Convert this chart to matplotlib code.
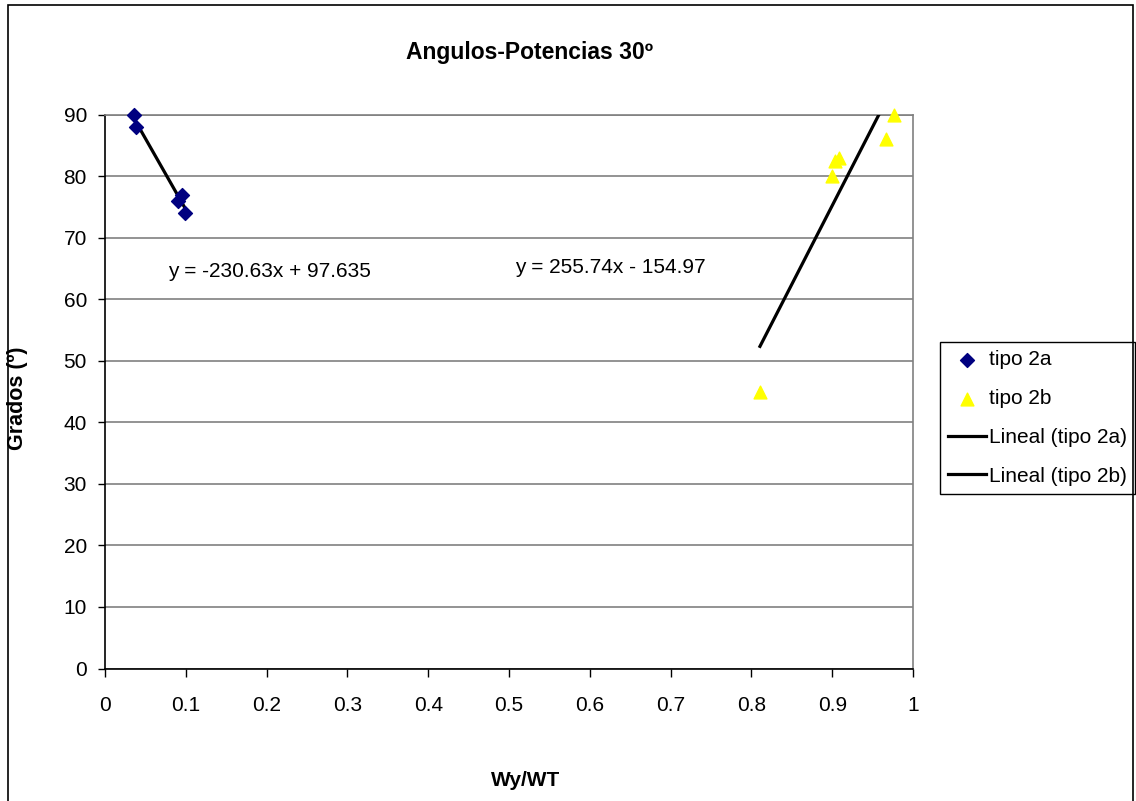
import matplotlib
matplotlib.use("Agg")
import matplotlib.pyplot as plt
from matplotlib.patches import Rectangle
import numpy as np

plt.rcParams['font.family'] = ['Liberation Sans', 'DejaVu Sans']

# data
x_2a = [0.0363, 0.038, 0.0957, 0.0907, 0.099]
y_2a = [90, 88, 77, 76, 74]
x_2b = [0.8106, 0.900, 0.904, 0.908, 0.966, 0.977]
y_2b = [45, 80, 82.5, 83, 86, 90]

# trendline coefficients as printed on the chart
fit_2a = (-230.63, 97.635)
fit_2b = (255.74, -154.97)
eq_2a = "y = -230.63x + 97.635"
eq_2b = "y = 255.74x - 154.97"

xticks = [0, 0.1, 0.2, 0.3, 0.4, 0.5, 0.6, 0.7, 0.8, 0.9, 1]
xticklabels = ["0", "0.1", "0.2", "0.3", "0.4", "0.5", "0.6", "0.7", "0.8", "0.9", "1"]
yticks = list(range(0, 91, 10))

fig = plt.figure(figsize=(11.36, 8.01), dpi=100)
ax = fig.add_axes([105/1136, 1 - 668.5/801, (913 - 105)/1136, (668.5 - 114.5)/801])

ax.scatter(x_2a, y_2a, marker='D', s=50, color='#000080', zorder=4, clip_on=False, label='tipo 2a')
ax.scatter(x_2b, y_2b, marker='^', s=85, color='#FFFF00', zorder=4, clip_on=False, label='tipo 2b')

# trendlines over each series' x range
xa = np.array([min(x_2a), max(x_2a)])
xb = np.array([min(x_2b), max(x_2b)])
ax.plot(xa, fit_2a[0]*xa + fit_2a[1], color='black', lw=2.3, zorder=3, label='Lineal (tipo 2a)')
ax.plot(xb, fit_2b[0]*xb + fit_2b[1], color='black', lw=2.3, zorder=3, label='Lineal (tipo 2b)')

ax.text(0.078, 64.5, eq_2a, fontsize=15, va='center', ha='left')
ax.text(0.507, 65.2, eq_2b, fontsize=15, va='center', ha='left')

ax.set_xlim(0, 1)
ax.set_ylim(0, 90)
ax.set_xticks(xticks)
ax.set_xticklabels(xticklabels)
ax.set_yticks(yticks)
ax.yaxis.grid(True, color='#808080', lw=1.2)
ax.set_axisbelow(True)
ax.tick_params(axis='x', direction='out', length=6, width=1, pad=14, labelsize=15)
ax.tick_params(axis='y', direction='out', length=5, width=1, pad=8, labelsize=15)

for s in ['left', 'bottom']:
    ax.spines[s].set_color('black')
    ax.spines[s].set_linewidth(1.2)
for s in ['top', 'right']:
    ax.spines[s].set_color('#808080')
    ax.spines[s].set_linewidth(1.2)

fig.text(530/1136, 1 - 52/801, "Angulos-Potencias 30º", fontsize=16.5, fontweight='bold',
         ha='center', va='center')
fig.text(18/1136, 1 - 398/801, "Grados (º)", fontsize=15.5, fontweight='bold',
         ha='center', va='center', rotation=90)
fig.text(526/1136, 1 - 780/801, "Wy/WT", fontsize=15, fontweight='bold',
         ha='center', va='center')

leg = ax.legend(loc='upper left', bbox_to_anchor=(940/1136, 1 - 342/801),
                bbox_transform=fig.transFigure, borderaxespad=0, fontsize=15,
                fancybox=False, framealpha=1, edgecolor='black', handlelength=1.8,
                handletextpad=0.15, labelspacing=0.95, borderpad=0.4)
leg.get_frame().set_linewidth(1.0)

fig.patches.append(Rectangle((8/1136, -0.05), 1125/1136, 1 - 5/801 + 0.05,
                             transform=fig.transFigure, fill=False,
                             edgecolor='black', lw=1.2))

fig.savefig("out.png", dpi=100)
